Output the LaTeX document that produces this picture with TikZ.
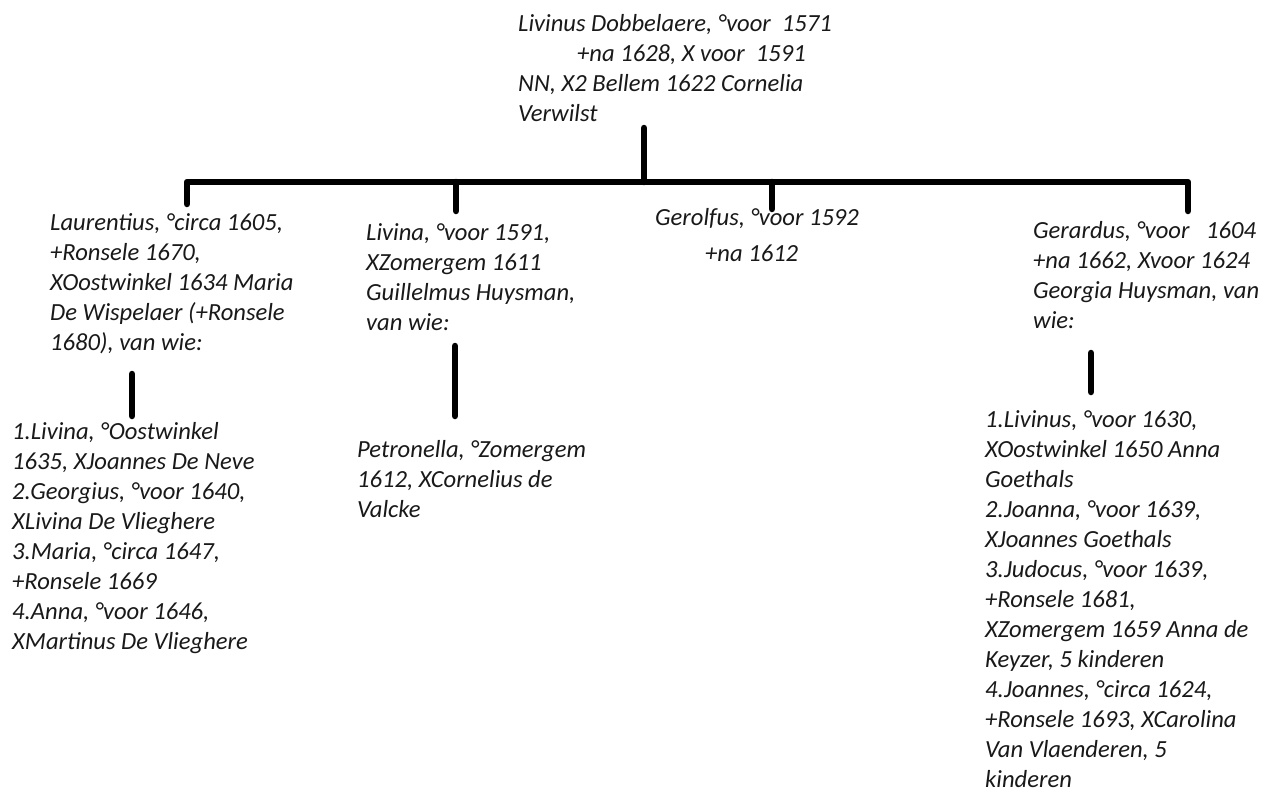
\documentclass[tikz,border=0pt]{standalone}
\usepackage{fontspec}
\setmainfont{Carlito}
\begin{document}
\begin{tikzpicture}[x=1pt,y=-1pt,
  txt/.style={anchor=base west,inner sep=0pt,font=\fontsize{24.6}{30}\selectfont\itshape,text=black!90},
  tline/.style={line width=6.5pt,line cap=round,line join=round}]
\useasboundingbox[fill=white] (0,0) rectangle (1282,792);
\newcommand{\blk}[1]{\begin{tabular}[t]{@{}l@{}}#1\end{tabular}}
% parent
\node[txt] (top1) at (518,32) {Livinus Dobbelaere, °voor~~1571};
\node[txt] (top2) at (577,62) {+na 1628, X voor~~1591};
\node[txt] (top3) at (518,92) {\blk{NN, X2 Bellem 1622 Cornelia\\Verwilst}};
% children
\node[txt] (laur) at (50,230) {\blk{Laurentius, °circa 1605,\\+Ronsele 1670,\\XOostwinkel 1634 Maria\\De Wispelaer (+Ronsele\\1680), van wie:}};
\node[txt] (livina) at (366,240) {\blk{Livina, °voor 1591,\\XZomergem 1611\\Guillelmus Huysman,\\van wie:}};
\node[txt] (gerolf) at (655,225) {Gerolfus, °voor 1592};
\node[txt] (gerolf2) at (705,261) {+na 1612};
\node[txt] (gerard) at (1033,238) {\blk{Gerardus, °voor~~~1604\\+na 1662, Xvoor 1624\\Georgia Huysman, van\\wie:}};
% grandchildren
\node[txt] (lkids) at (12,439) {\blk{1.Livina, °Oostwinkel\\1635, XJoannes De Neve\\2.Georgius, °voor 1640,\\XLivina De Vlieghere\\3.Maria, °circa 1647,\\+Ronsele 1669\\4.Anna, °voor 1646,\\XMartinus De Vlieghere}};
\node[txt] (petr) at (357,457) {\blk{Petronella, °Zomergem\\1612, XCornelius de\\Valcke}};
\node[txt] (gkids) at (985,427) {\blk{1.Livinus, °voor 1630,\\XOostwinkel 1650 Anna\\Goethals\\2.Joanna, °voor 1639,\\XJoannes Goethals\\3.Judocus, °voor 1639,\\+Ronsele 1681,\\XZomergem 1659 Anna de\\Keyzer, 5 kinderen\\4.Joannes, °circa 1624,\\+Ronsele 1693, XCarolina\\Van Vlaenderen, 5\\kinderen}};
% connector coordinates
\coordinate (ptop) at (644,128);
\coordinate (pbar) at (644,182);
\coordinate (barL) at (187,182);
\coordinate (barR) at (1188,182);
\coordinate (laurT) at (187,204);
\coordinate (livB) at (456,182);
\coordinate (livT) at (456,211);
\coordinate (gerB) at (772,182);
\coordinate (gerT) at (772,209);
\coordinate (gerdT) at (1188,211);
\coordinate (l1) at (132,374);
\coordinate (l2) at (132,416);
\coordinate (v1) at (455,346);
\coordinate (v2) at (455,416);
\coordinate (g1) at (1091,353);
\coordinate (g2) at (1091,392);
\draw[tline] (ptop) -- (pbar);
\draw[tline] (laurT) -- (barL) -- (barR) -- (gerdT);
\draw[tline] (livB) -- (livT);
\draw[tline] (gerB) -- (gerT);
\draw[tline] (l1) -- (l2);
\draw[tline] (v1) -- (v2);
\draw[tline] (g1) -- (g2);
\end{tikzpicture}
\end{document}
